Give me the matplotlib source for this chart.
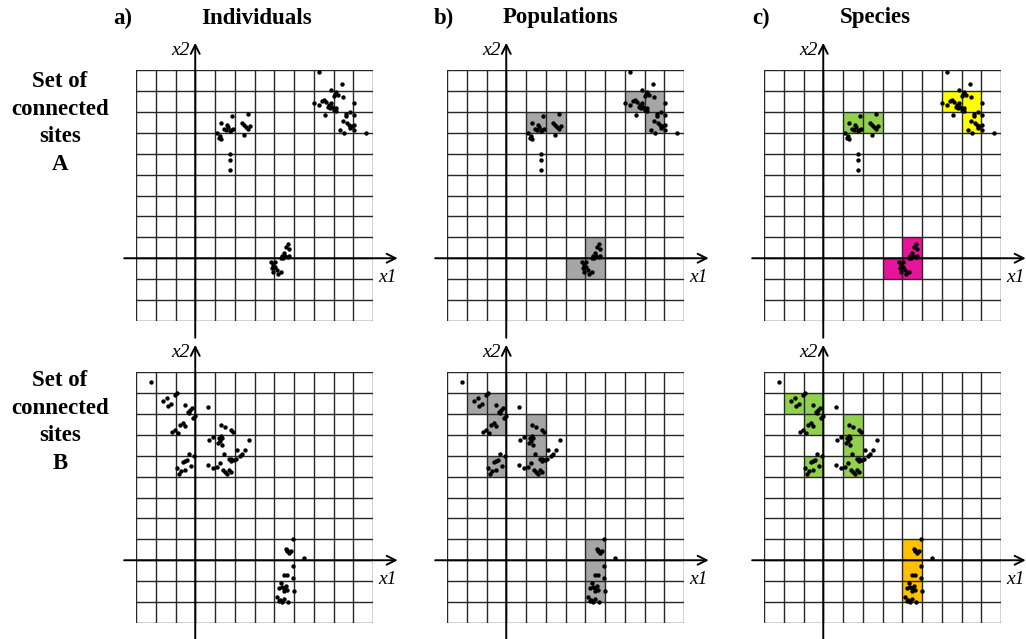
import numpy as np
import matplotlib.pyplot as plt
from matplotlib.patches import Rectangle

plt.rcParams['font.family'] = ['Liberation Serif', 'DejaVu Serif']

# individuals in grid units (x1, x2), set of connected sites A
ind_a_x = [1.84, 1.30, 1.61, 1.67, 1.47, 1.54, 1.81, 1.91, 1.74, 1.10, 1.24, 1.30, 1.20,
           2.68, 2.38, 2.48, 2.55, 2.75, 2.65, 2.48, 1.77, 1.77, 1.77,
           6.25, 7.41, 6.87, 7.14, 7.08, 7.21, 7.48, 7.01, 6.00, 6.27, 6.44, 6.50, 6.61,
           6.77, 6.87, 6.71, 6.84, 6.94, 7.01, 7.11, 6.57, 7.14, 8.05, 7.65, 7.82, 8.02,
           7.61, 7.48, 7.68, 7.78, 7.92, 8.02, 7.85, 7.31, 7.55, 8.02, 8.66,
           4.68, 4.62, 4.75, 4.48, 4.38, 4.55, 4.68, 4.42, 4.32, 4.05, 3.85, 3.95, 4.02,
           3.88, 4.12, 3.95, 4.32, 4.18, 4.75]
ind_a_y = [6.81, 6.48, 6.37, 6.29, 6.19, 6.15, 6.13, 6.19, 6.06, 6.00, 5.84, 5.71, 5.76,
           6.89, 6.48, 6.39, 6.29, 6.32, 6.19, 5.90, 5.00, 4.71, 4.23,
           8.92, 8.31, 8.04, 7.93, 7.83, 7.80, 7.72, 7.74, 7.43, 7.35, 7.51, 7.58, 7.48,
           7.35, 7.42, 7.22, 7.16, 7.24, 7.08, 7.03, 6.84, 7.19, 7.42, 6.92, 6.97, 6.87,
           6.81, 6.55, 6.46, 6.36, 6.30, 6.36, 6.23, 6.12, 5.98, 6.12, 5.98,
           0.68, 0.52, 0.42, 0.23, 0.13, 0.10, 0.06, 0.00, 0.03, -0.16, -0.19, -0.32, -0.42,
           -0.48, -0.55, -0.65, -0.65, -0.77, 0.13]

# individuals, set of connected sites B
ind_b_x = [-2.23, -1.62, -1.45, -1.38, -1.25, -1.05, -0.94, -0.54, -0.37, -0.27, -0.17,
           -0.30, -0.10, -0.03, 0.67, -0.78, -0.61, -0.51, -1.05, -1.18, -0.88,
           1.28, 1.52, 1.82, 1.89, 0.71, 0.91, 1.18, 1.28, 1.35, 1.25, 1.15, 1.35, 2.73,
           1.45, 2.09, 2.50, 2.36, 2.26, 1.69, 1.82, 1.96, 2.06, 1.82,
           -0.30, -0.07, -0.51, -0.61, -0.44, -0.24, -0.94, -0.74, -0.81, -0.51,
           0.64, 0.91, 1.08, 1.25, 1.38, 1.52, 1.69, 1.79, 1.59,
           4.93, 4.57, 4.67, 4.77, 4.87, 4.63, 5.53, 4.93, 4.50, 4.67, 4.93, 4.33, 4.23,
           4.40, 4.50, 4.57, 4.63, 4.47, 5.00, 4.13, 4.30, 4.40, 4.23, 4.47, 4.70]
ind_b_y = [8.51, 7.62, 7.75, 7.36, 7.46, 7.90, 8.00, 7.43, 7.11, 7.20, 7.30,
           7.04, 6.82, 6.92, 7.35, 6.47, 6.57, 6.41, 6.22, 6.15, 6.06,
           6.47, 6.37, 6.25, 6.15, 5.77, 5.90, 5.83, 5.96, 5.83, 5.71, 5.61, 5.51, 5.77,
           5.10, 5.29, 5.26, 5.07, 4.97, 4.84, 4.75, 4.78, 4.84, 4.84,
           5.10, 5.00, 4.75, 4.69, 4.78, 4.49, 4.43, 4.27, 4.14, 4.30,
           4.53, 4.40, 4.46, 4.65, 4.30, 4.21, 4.30, 4.21, 4.14,
           1.03, 0.55, 0.42, 0.35, 0.42, 0.48, 0.13, -0.26, -0.71, -0.71, -0.87, -1.10, -1.35,
           -1.29, -1.32, -1.23, -1.42, -1.45, -1.45, -1.77, -1.90, -2.00, -1.97, -1.87, -2.00]

# occupied cells (lower-left corner) grouped by species
species_a = {'#92d050': [(1, 6), (2, 6)],
             '#ffff00': [(6, 7), (7, 7), (7, 6)],
             '#e8139b': [(4, 0), (3, -1), (4, -1)]}
species_b = {'#92d050': [(-2, 7), (-1, 7), (-1, 6), (-1, 4), (1, 6), (1, 5), (1, 4)],
             '#ffc000': [(4, 0), (4, -1), (4, -2)]}

col_letters = ['a)', 'b)', 'c)']
col_titles = ['Individuals', 'Populations', 'Species']
row_labels = ['Set of\nconnected\nsites\nA', 'Set of\nconnected\nsites\nB']

W, H = 1026, 639
fig = plt.figure(figsize=(W / 100, H / 100), dpi=100)

lefts = [136, 447, 764]
tops = [70, 372]
pw, ph = 237, 251


def draw_panel(ax, xs, ys, cells):
    for color, cl in cells.items():
        for cx, cy in cl:
            ax.add_patch(Rectangle((cx, cy), 1, 1, facecolor=color, edgecolor='none', zorder=1))
    for g in range(-3, 10):
        ax.plot([g, g], [-3, 9], color='#262626', lw=1.0, zorder=2)
        ax.plot([-3, 9], [g, g], color='#262626', lw=1.0, zorder=2)
    arrow = dict(arrowstyle='->', lw=1.4, color='black', mutation_scale=16, shrinkA=0, shrinkB=0)
    ax.annotate('', xy=(10.25, 0), xytext=(-3.6, 0), arrowprops=arrow, annotation_clip=False, zorder=3)
    ax.annotate('', xy=(0, 10.3), xytext=(0, -3.8), arrowprops=arrow, annotation_clip=False, zorder=3)
    ax.text(9.75, -0.9, 'x1', style='italic', fontsize=14, ha='center', va='center', clip_on=False)
    ax.text(-0.75, 9.95, 'x2', style='italic', fontsize=14, ha='center', va='center', clip_on=False)
    ax.scatter(xs, ys, s=10, color='black', zorder=4, clip_on=False, linewidths=0)
    ax.set_xlim(-3, 9)
    ax.set_ylim(-3, 9)
    ax.axis('off')


rows = [(ind_a_x, ind_a_y, species_a), (ind_b_x, ind_b_y, species_b)]
for r, (xs, ys, sp) in enumerate(rows):
    pops = {'#a6a6a6': [c for cl in sp.values() for c in cl]}
    for c in range(3):
        ax = fig.add_axes([lefts[c] / W, 1 - (tops[r] + ph) / H, pw / W, ph / H])
        cells = [{}, pops, sp][c]
        draw_panel(ax, xs, ys, cells)

letter_x = [123, 444, 761]
title_x = [256, 560, 875]
for c in range(3):
    fig.text(letter_x[c] / W, 1 - 18 / H, col_letters[c], fontsize=16.5, fontweight='bold',
             ha='center', va='center')
    fig.text(title_x[c] / W, 1 - 18 / H, col_titles[c], fontsize=16.5, fontweight='bold',
             ha='center', va='center')

for r, yc in enumerate([123, 422]):
    fig.text(60 / W, 1 - yc / H, row_labels[r], fontsize=16.5, fontweight='bold',
             ha='center', va='center', linespacing=1.4, multialignment='center')

fig.savefig('out.png', dpi=100, facecolor='white')
